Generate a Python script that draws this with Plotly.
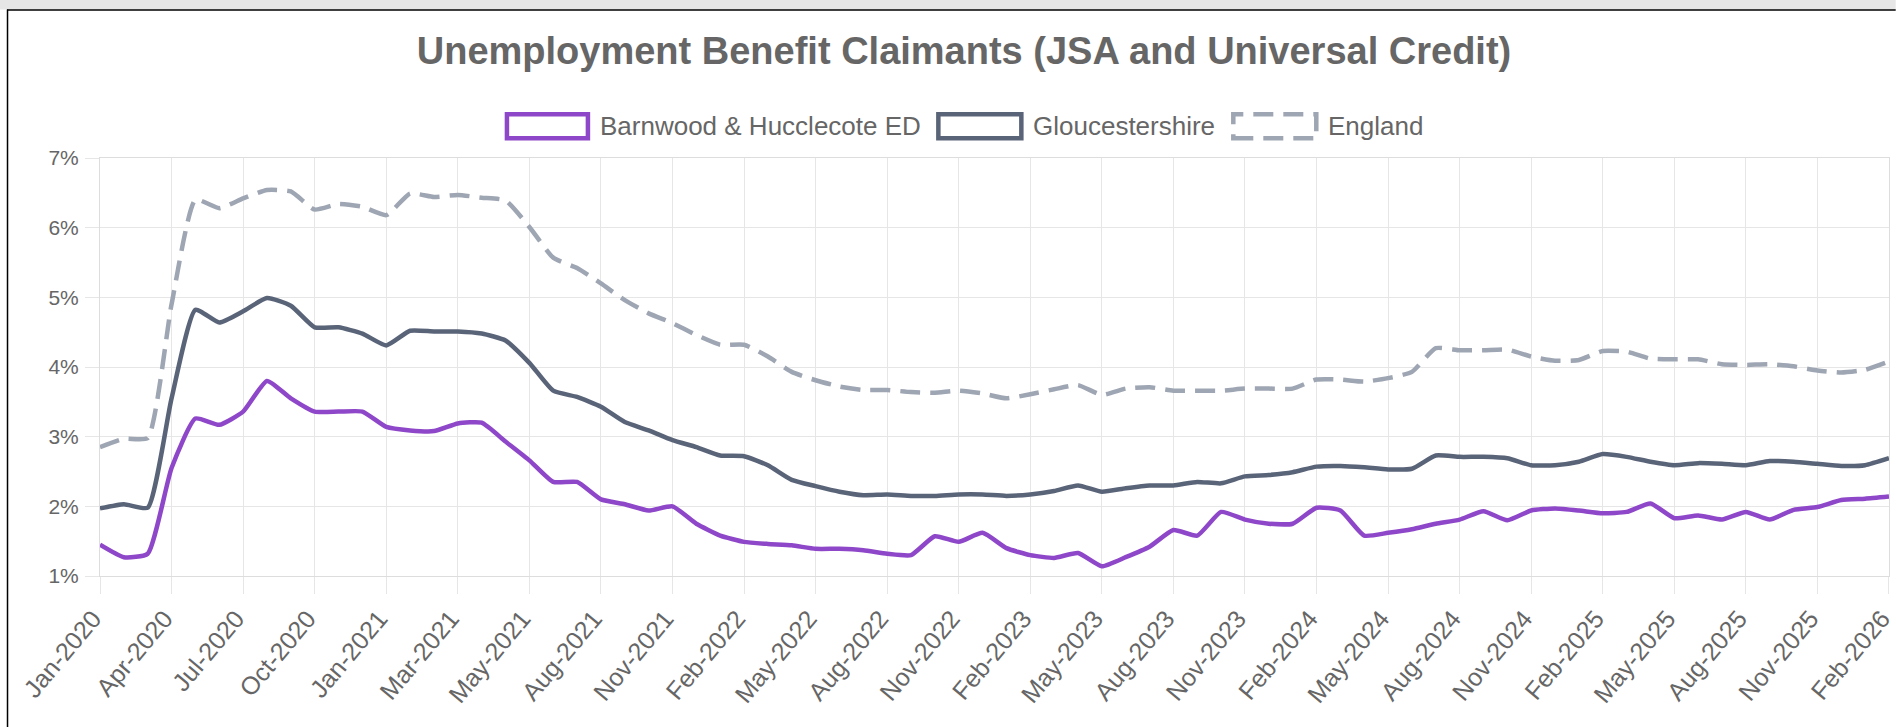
import plotly.graph_objects as go

# ---- data ----
tick_labels = ["Jan-2020", "Apr-2020", "Jul-2020", "Oct-2020", "Jan-2021", "Mar-2021",
               "May-2021", "Aug-2021", "Nov-2021", "Feb-2022", "May-2022", "Aug-2022",
               "Nov-2022", "Feb-2023", "May-2023", "Aug-2023", "Nov-2023", "Feb-2024",
               "May-2024", "Aug-2024", "Nov-2024", "Feb-2025", "May-2025", "Aug-2025",
               "Nov-2025", "Feb-2026"]

barnwood = [1.45, 1.27, 1.32, 2.55, 3.26, 3.17, 3.36, 3.80, 3.55, 3.36,
            3.36, 3.36, 3.14, 3.09, 3.08, 3.19, 3.20, 2.93, 2.66, 2.35,
            2.35, 2.10, 2.03, 1.94, 2.00, 1.75, 1.58, 1.49, 1.46, 1.44,
            1.39, 1.39, 1.37, 1.32, 1.30, 1.57, 1.49, 1.62, 1.40, 1.30,
            1.26, 1.33, 1.14, 1.27, 1.42, 1.66, 1.58, 1.92, 1.81, 1.75,
            1.75, 1.98, 1.94, 1.58, 1.62, 1.67, 1.75, 1.81, 1.93, 1.80,
            1.94, 1.97, 1.94, 1.90, 1.92, 2.04, 1.83, 1.87, 1.81, 1.92,
            1.81, 1.95, 1.99, 2.09, 2.11, 2.14]

gloucestershire = [1.97, 2.03, 1.98, 3.55, 4.82, 4.64, 4.80, 4.99, 4.88, 4.57,
                   4.57, 4.48, 4.31, 4.52, 4.51, 4.51, 4.48, 4.38, 4.06, 3.66,
                   3.57, 3.43, 3.21, 3.09, 2.95, 2.85, 2.73, 2.72, 2.59, 2.38,
                   2.29, 2.21, 2.16, 2.17, 2.15, 2.15, 2.17, 2.17, 2.15, 2.17,
                   2.22, 2.30, 2.21, 2.26, 2.30, 2.30, 2.35, 2.33, 2.43, 2.45,
                   2.49, 2.57, 2.58, 2.56, 2.53, 2.54, 2.73, 2.71, 2.71, 2.69,
                   2.59, 2.59, 2.64, 2.75, 2.71, 2.64, 2.59, 2.62, 2.61, 2.59,
                   2.65, 2.64, 2.61, 2.58, 2.59, 2.69]

england = [2.85, 2.97, 2.98, 4.90, 6.40, 6.28, 6.42, 6.54, 6.52, 6.26,
           6.34, 6.30, 6.18, 6.49, 6.44, 6.47, 6.43, 6.39, 6.01, 5.57,
           5.42, 5.20, 4.96, 4.77, 4.63, 4.46, 4.32, 4.32, 4.15, 3.93,
           3.81, 3.72, 3.67, 3.67, 3.64, 3.63, 3.66, 3.62, 3.55, 3.61,
           3.68, 3.74, 3.60, 3.69, 3.71, 3.66, 3.66, 3.66, 3.69, 3.69,
           3.69, 3.82, 3.82, 3.79, 3.84, 3.93, 4.27, 4.24, 4.24, 4.25,
           4.15, 4.09, 4.10, 4.23, 4.22, 4.12, 4.11, 4.11, 4.04, 4.03,
           4.04, 4.01, 3.95, 3.92, 3.96, 4.08]

series_names = ["Barnwood & Hucclecote ED", "Gloucestershire", "England"]
series_colors = ["#8e47c8", "#5a6479", "#9ea5b3"]

x = list(range(len(barnwood)))
tickvals = list(range(0, len(barnwood), 3))

# ---- layout geometry ----
W, H = 1896, 727
L, R, T, B = 100, 1889.3, 158.3, 575.7
FONT = "Liberation Sans, Arial, Helvetica, sans-serif"
TXT = "#666666"


def px(v):
    return (v - L) / (R - L)


def py(v):
    return (B - v) / (B - T)


fig = go.Figure()
dashes = ["solid", "solid", "20px,10px"]
for name, ys, col, dash in zip(series_names, [barnwood, gloucestershire, england],
                               series_colors, dashes):
    fig.add_trace(go.Scatter(x=x, y=ys, name=name, mode="lines",
                             line=dict(color=col, width=4.5, dash=dash,
                                       shape="spline", smoothing=0.5),
                             showlegend=False, cliponaxis=False))

shapes = [
    # page chrome: grey strip + black frame
    dict(type="rect", xref="paper", yref="paper", x0=px(0), x1=px(W), y0=py(10), y1=py(0),
         fillcolor="#e6e6e6", line=dict(width=0), layer="below"),
    dict(type="line", xref="paper", yref="paper", x0=px(7), x1=px(W), y0=py(10.5), y1=py(10.5),
         line=dict(color="#000000", width=1.5)),
    dict(type="line", xref="paper", yref="paper", x0=px(7.5), x1=px(7.5), y0=py(10), y1=py(H),
         line=dict(color="#000000", width=1.5)),
]

# custom legend (outlined boxes like the original)
legend_boxes = [(507, 588, 598.5), (938.5, 1021.5, 1031), (1233.5, 1316.5, 1326)]
annotations = []
for (bx0, bx1, tx), name, col, dash in zip(legend_boxes, series_names, series_colors,
                                           ["solid", "solid", "20px,10px"]):
    shapes.append(dict(type="rect", xref="paper", yref="paper",
                       x0=px(bx0), x1=px(bx1), y0=py(138.5), y1=py(114.5),
                       fillcolor="white", line=dict(color=col, width=4.5, dash=dash)))
    annotations.append(dict(text=name, xref="paper", yref="paper", x=px(tx), y=py(126.5),
                            xanchor="left", yanchor="middle", showarrow=False,
                            font=dict(family=FONT, size=26, color=TXT)))

fig.update_layout(
    width=W, height=H,
    margin=dict(l=L, r=W - R, t=T, b=H - B, pad=0, autoexpand=False),
    paper_bgcolor="white", plot_bgcolor="white",
    title=dict(text="<b>Unemployment Benefit Claimants (JSA and Universal Credit)</b>",
               x=964 / W, xanchor="center", y=1 - 51 / H, yanchor="middle",
               xref="container", yref="container",
               font=dict(family=FONT, size=38, color=TXT)),
    shapes=shapes,
    annotations=annotations,
    xaxis=dict(range=[0, 75.0005], tickmode="array", tickvals=tickvals, ticktext=tick_labels,
               tickangle=-50, showgrid=True, gridcolor="#e6e6e6", gridwidth=1,
               ticks="outside", ticklen=17, tickcolor="#e6e6e6", tickwidth=1,
               showline=True, linecolor="#dddddd", linewidth=1, mirror=True,
               automargin=False, ticklabeloverflow="allow", ticklabelshift=-7,
               zeroline=False, tickfont=dict(family=FONT, size=25, color=TXT)),
    yaxis=dict(range=[1, 7], tickmode="linear", tick0=1, dtick=1, ticksuffix="%",
               showgrid=True, gridcolor="#e6e6e6", gridwidth=1,
               ticks="outside", ticklen=14, tickcolor="#e6e6e6", tickwidth=1,
               ticklabelstandoff=2, automargin=False,
               showline=True, linecolor="#dddddd", linewidth=1, mirror=True,
               zeroline=False, tickfont=dict(family=FONT, size=21, color=TXT)),
    hovermode=False,
)

fig.write_html(
    "out.html",
    config={"displayModeBar": False, "staticPlot": True},
    post_script="document.body.style.margin='0';document.body.style.overflow='hidden';",
)
